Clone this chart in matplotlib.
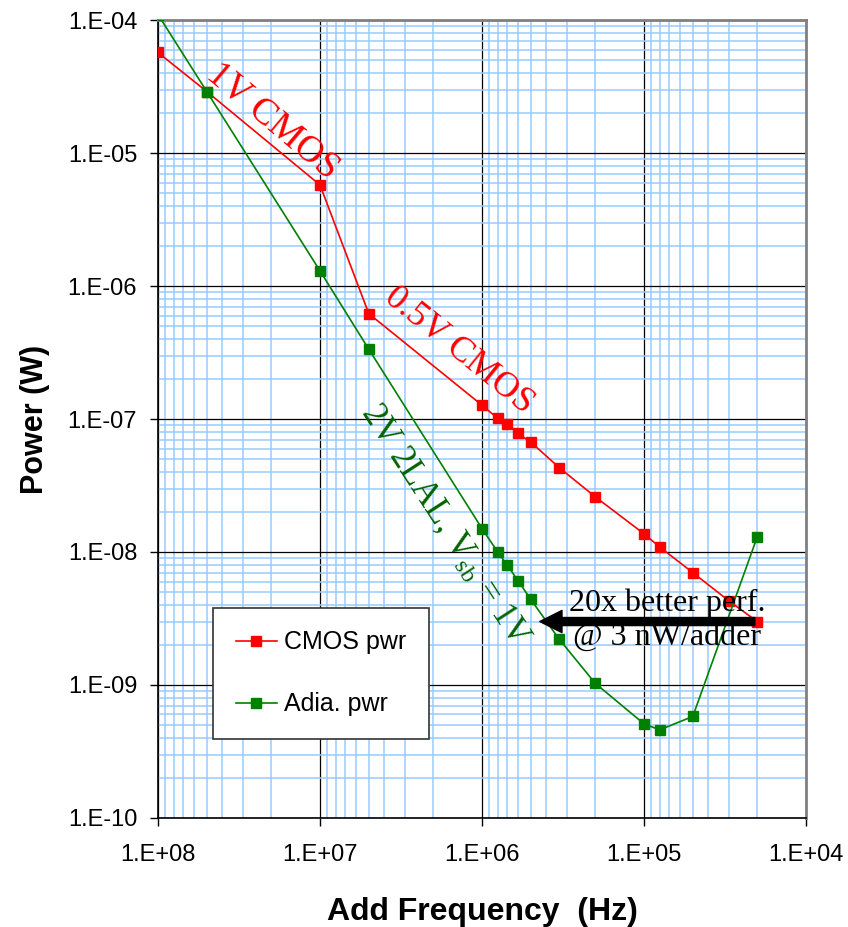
import math
import matplotlib
matplotlib.use("Agg")
import matplotlib.pyplot as plt
from matplotlib.ticker import LogLocator, FixedLocator, FuncFormatter, NullFormatter

plt.rcParams["mathtext.fontset"] = "custom"
plt.rcParams["mathtext.rm"] = "Liberation Serif"

# CMOS adder power vs. add frequency
cmos_freq = [1e8, 5e7, 1e7, 5e6, 1e6, 8e5, 7e5, 6e5, 5e5, 3.33e5, 2e5,
             1e5, 8e4, 5e4, 3e4, 2e4]
cmos_pwr = [5.7e-5, 2.9e-5, 5.75e-6, 6.2e-7, 1.27e-7, 1.01e-7, 9.1e-8,
            7.8e-8, 6.7e-8, 4.3e-8, 2.6e-8, 1.37e-8, 1.09e-8, 7.0e-9,
            4.3e-9, 3.0e-9]

# Adiabatic (2LAL) adder power vs. add frequency
adia_freq = [1e8, 5e7, 1e7, 5e6, 1e6, 8e5, 7e5, 6e5, 5e5, 3.33e5, 2e5,
             1e5, 8e4, 5e4, 2e4]
adia_pwr = [1.1e-4, 2.9e-5, 1.3e-6, 3.35e-7, 1.5e-8, 1.0e-8, 8.0e-9,
            6.1e-9, 4.4e-9, 2.2e-9, 1.03e-9, 5.1e-10, 4.6e-10, 5.8e-10,
            1.3e-8]

x_ticks = [1e8, 1e7, 1e6, 1e5, 1e4]
y_ticks = [1e-10, 1e-9, 1e-8, 1e-7, 1e-6, 1e-5, 1e-4]

fig = plt.figure(figsize=(8.48, 9.27), dpi=100)
ax = fig.add_axes([0.1863, 0.1176, 0.7642, 0.8608])

ax.set_xscale("log")
ax.set_yscale("log")
ax.set_xlim(1e8, 1e4)
ax.set_ylim(1e-10, 1e-4)

# grids: light-blue minor, black major
ax.xaxis.set_major_locator(FixedLocator(x_ticks))
ax.yaxis.set_major_locator(FixedLocator(y_ticks))
ax.xaxis.set_minor_locator(LogLocator(base=10, subs=range(2, 10), numticks=20))
ax.yaxis.set_minor_locator(LogLocator(base=10, subs=range(2, 10), numticks=20))
ax.xaxis.set_minor_formatter(NullFormatter())
ax.yaxis.set_minor_formatter(NullFormatter())
ax.grid(which="minor", color="#99ccff", linewidth=1.1, zorder=0)
ax.grid(which="major", color="black", linewidth=0.9, zorder=0.5)
ax.set_axisbelow(True)


def sci_label(v, pos):
    exp = int(round(math.log10(v)))
    sign = "+" if exp >= 0 else "-"
    return f"1.E{sign}{abs(exp):02d}"


ax.xaxis.set_major_formatter(FuncFormatter(sci_label))
ax.yaxis.set_major_formatter(FuncFormatter(sci_label))
ax.tick_params(which="major", direction="out", length=6, width=1,
               labelsize=17)
ax.tick_params(axis="x", pad=13)
ax.tick_params(axis="y", pad=9)
ax.tick_params(which="minor", length=0)
for lab in ax.get_xticklabels() + ax.get_yticklabels():
    lab.set_family("Liberation Sans")

for side in ("top", "right"):
    ax.spines[side].set_color("#808080")
    ax.spines[side].set_linewidth(2)
for side in ("left", "bottom"):
    ax.spines[side].set_color("black")
    ax.spines[side].set_linewidth(1.2)

ax.plot(cmos_freq, cmos_pwr, color="red", lw=1.2, marker="s", ms=6.5,
        label="CMOS pwr", zorder=3)
ax.plot(adia_freq, adia_pwr, color="green", lw=1.2, marker="s", ms=6.5,
        label="Adia. pwr", zorder=3)

ax.set_xlabel("Add Frequency  (Hz)", family="Liberation Sans",
              fontsize=23, fontweight="bold", labelpad=22)
ax.set_ylabel("Power (W)", family="Liberation Sans",
              fontsize=22, fontweight="bold", labelpad=13)

serif = "Liberation Serif"
ax.text(1.96e7, 1.74e-5, "1V CMOS", color="red", family=serif, fontsize=27,
        rotation=-40, ha="center", va="center", rotation_mode="anchor",
        zorder=4)
ax.text(1.39e6, 3.3e-7, "0.5V CMOS", color="red", family=serif, fontsize=26,
        rotation=-39, ha="center", va="center", rotation_mode="anchor",
        zorder=4)
ax.text(1.69e6, 1.6e-8, r"2V 2LAL, V$_{\mathrm{sb}}$ = 1V", color="#006400",
        family=serif, fontsize=25, rotation=-57, ha="center", va="center",
        rotation_mode="anchor", zorder=4)

# improvement arrow at 3 nW/adder
ax.text(7.2e4, 4.1e-9, "20x better perf.", family=serif, fontsize=23,
        ha="center", va="center", zorder=5)
ax.text(7.2e4, 2.3e-9, "@ 3 nW/adder", family=serif, fontsize=23,
        ha="center", va="center", zorder=5)
ax.annotate("", xy=(4.4e5, 3.0e-9), xytext=(2.07e4, 3.0e-9),
            arrowprops=dict(width=5.8, headwidth=16, headlength=16,
                            facecolor="black", edgecolor="black"),
            zorder=6)

leg = ax.legend(loc="upper left", bbox_to_anchor=(0.0849, 0.2632),
                prop={"family": "Liberation Sans", "size": 18},
                frameon=True, fancybox=False, edgecolor="#333333",
                framealpha=1, borderpad=0.9, labelspacing=1.52,
                handlelength=1.65, handletextpad=0.3, borderaxespad=0)
leg.get_frame().set_linewidth(1.2)
leg.set_zorder(7)

fig.savefig("out.png", dpi=100)
